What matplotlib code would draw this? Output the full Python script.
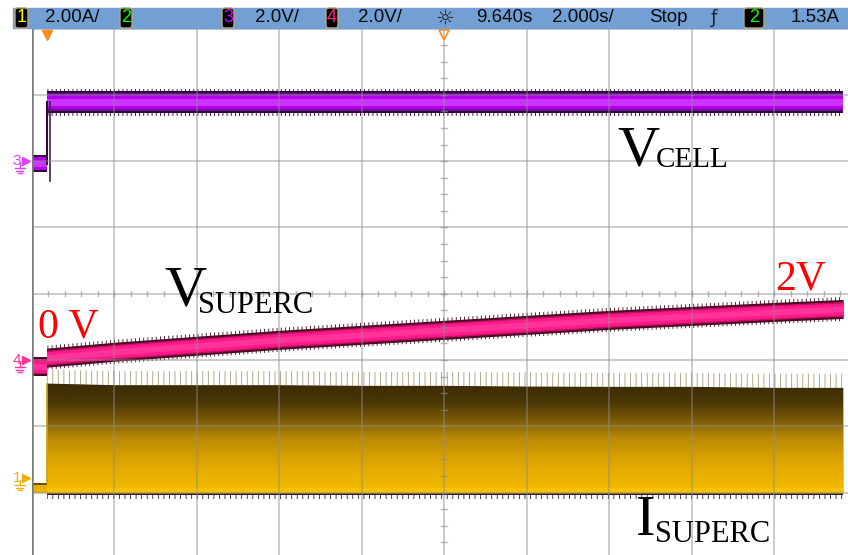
import numpy as np
import matplotlib.pyplot as plt
from matplotlib.patches import Rectangle, FancyBboxPatch
from matplotlib.colors import LinearSegmentedColormap

# horizontal: 2.000 s/div, delay 9.640 s (centre of screen)
t_delay, t_div = 9.640, 2.0
t_left = t_delay - 5 * t_div

# channel scale (V/div or A/div) and ground marker position (div from centre)
ch3_scale, ch3_pos = 2.0, 2.0     # V_CELL
ch4_scale, ch4_pos = 2.0, -1.0    # V_SUPERC
ch1_scale, ch1_pos = 2.0, -2.78   # I_SUPERC

# instants where the envelopes were read (s)
t_read = [0.0, 1.66, 3.64, 5.66, 7.65, 9.64, 11.65, 13.64, 15.65, 17.64, 19.31]
t_pre = [t_left, 0.0]

# V_CELL (V): before / after the switch-on, and the glitch at the step
vcell_pre = [-0.08, -0.08]
vcell_post = [1.77, 1.77, 1.77, 1.77, 1.77, 1.77, 1.77, 1.77, 1.77, 1.77, 1.77]
glitch_t, glitch_v = 0.09, -0.60

# V_SUPERC (V), mean level of the trace
vsc_pre = [-0.20, -0.20]
vsc_post = [0.07, 0.25, 0.43, 0.61, 0.76, 0.91, 1.06, 1.21, 1.33, 1.45, 1.54]

# I_SUPERC (A), lower and upper envelope of the switching current
isc_pre_lo = [-0.45, -0.45]
isc_pre_hi = [-0.15, -0.15]
isc_lo = [-0.45, -0.45, -0.45, -0.45, -0.45, -0.45, -0.45, -0.45, -0.45, -0.45, -0.45]
isc_hi = [2.85, 2.80, 2.80, 2.80, 2.78, 2.78, 2.76, 2.75, 2.75, 2.72, 2.72]

PX = 1 / 66.3   # one screen pixel in divisions (vertical)
PXX = 1 / 825   # one screen pixel in axes fraction (horizontal)


def to_div(vals, scale, pos):
    return pos + np.asarray(vals) / scale


def band(ax, t, y, layers, z):
    # layers: (half width in px, colour, hatch)
    for half, col, hatch in layers:
        if hatch:
            ax.fill_between(t, y - half * PX, y + half * PX, facecolor='none',
                            edgecolor=col, hatch=hatch, lw=0, zorder=z)
        else:
            ax.fill_between(t, y - half * PX, y + half * PX, color=col, lw=0, zorder=z)
        z += 0.01


plt.rcParams['hatch.linewidth'] = 0.6

fig = plt.figure(figsize=(8.48, 5.55), dpi=100)
W, H = 848, 555
ax = fig.add_axes([31.7 / W, (H - 558.9) / H, 825 / W, 530.4 / H])
ax.set_xlim(t_left, t_left + 10 * t_div)
ax.set_ylim(-4, 4)
ax.axis('off')

# ---- V_CELL (channel 3, purple)
purple = [(13.5, '#2a0030', '||||'), (11, '#300838', None), (9, '#7010a0', None),
          (7, '#b400ea', None), (3.5, '#cc33ff', None)]
band(ax, t_read, to_div(vcell_post, ch3_scale, ch3_pos), purple, 3)
band(ax, t_pre, to_div(vcell_pre, ch3_scale, ch3_pos),
     [(8.5, '#300838', None), (6.5, '#b400ea', None), (3, '#cc33ff', None)], 3)
ax.plot([0.0, 0.0], to_div([vcell_pre[-1], vcell_post[0]], ch3_scale, ch3_pos),
        color='#300838', lw=1.5, zorder=3.2)
ax.plot([glitch_t, glitch_t], to_div([vcell_post[0], glitch_v], ch3_scale, ch3_pos),
        color='#402048', lw=1.2, zorder=3.2)

# ---- V_SUPERC (channel 4, pink)
pink = [(12, '#3a0820', '||||'), (9.5, '#4a0a25', None), (7.5, '#c0105f', None),
        (6, '#ff1a8c', None), (3, '#ff3399', None)]
band(ax, t_read, to_div(vsc_post, ch4_scale, ch4_pos), pink, 3)
band(ax, t_pre, to_div(vsc_pre, ch4_scale, ch4_pos), pink[1:], 3)

# ---- I_SUPERC (channel 1, yellow) with vertical colour gradient
y_lo = to_div(isc_lo, ch1_scale, ch1_pos)
y_hi = to_div(isc_hi, ch1_scale, ch1_pos)
ax.fill_between(t_read, y_hi, y_hi + 14 * PX, facecolor='none', edgecolor='#a89a78',
                hatch='|||', lw=0, zorder=2)
ax.fill_between(t_read, y_lo - 6 * PX, y_lo, facecolor='none', edgecolor='#301828',
                hatch='|||', lw=0, zorder=2)
ax.fill_between(t_read, y_lo - 2.5 * PX, y_lo + 1 * PX, color='#2a1a20', lw=0, zorder=2.1)
poly = ax.fill_between(t_read, y_lo, y_hi, color='#d9a300', lw=0, zorder=2.2)
ymin, ymax = y_lo.min(), y_hi.max()
cmap = LinearSegmentedColormap.from_list(
    'isc', ['#f5bc00', '#eab000', '#d6a000', '#b88a04', '#7a5a08', '#4a3606', '#3a2a06'])
grad = np.linspace(0, 1, 256).reshape(-1, 1)
im = ax.imshow(grad, cmap=cmap, aspect='auto', origin='lower',
               extent=[t_read[0], t_read[-1], ymin, ymax], zorder=2.3)
im.set_clip_path(poly.get_paths()[0], transform=ax.transData)
ax.fill_between(t_read, y_lo + 1 * PX, y_lo + 5 * PX, color='#f8c200', lw=0, zorder=2.4)
ax.fill_between(t_pre, to_div(isc_pre_lo, ch1_scale, ch1_pos), to_div(isc_pre_hi, ch1_scale, ch1_pos),
                color='#e8b000', lw=0, zorder=2.2)
ax.fill_between(t_pre, to_div(isc_pre_hi, ch1_scale, ch1_pos),
                to_div(isc_pre_hi, ch1_scale, ch1_pos) - 2 * PX, color='#6a5020', lw=0, zorder=2.3)
ax.plot([0.0, 0.0], [to_div(isc_pre_hi, ch1_scale, ch1_pos)[0], y_hi[0]],
        color='#d0a000', lw=1.2, zorder=2.3)

# ---- graticule, drawn over the traces
for k in range(1, 11):
    ax.axvline(t_left + k * t_div, color='#8c8c8c', alpha=0.45, lw=1.4, zorder=5)
for k in range(-3, 5):
    ax.axhline(k, color='#8c8c8c', alpha=0.45, lw=1.4, zorder=5)
ax.axvline(t_left, color='#7a7a7a', lw=1.8, zorder=5)
for k in np.arange(0, 10, 0.2):
    ax.plot([t_left + k * t_div] * 2, [-2.5 * PX, 2.5 * PX], color='#8c8c8c', alpha=0.6, lw=1, zorder=5)
for k in np.arange(-4, 4, 0.25):
    ax.plot([t_delay - 0.07, t_delay + 0.07], [k, k], color='#8c8c8c', alpha=0.6, lw=1, zorder=5)

# trigger point and time reference markers
ax.plot([0.0], [4 - 6 * PX], marker='v', ms=7, color='#ff8c1a', zorder=6, clip_on=False)
ax.plot([t_delay], [4 - 6 * PX], marker='v', ms=7, mfc='none', mec='#ff8c1a', mew=1.2,
        zorder=6, clip_on=False)

# channel ground markers: number, arrow and a small ground sign
ytr = ax.get_yaxis_transform()
for lab, pos, col in [('3', ch3_pos, '#e040ff'), ('4', ch4_pos, '#ff3399'), ('1', ch1_pos, '#f0b000')]:
    ax.text(-15 * PXX, pos, lab, transform=ytr, color=col, fontsize=11,
            ha='center', va='center', clip_on=False, family='Liberation Sans')
    ax.plot([-6 * PXX], [pos], marker='>', ms=6, color=col, transform=ytr, clip_on=False)
    gx = -12 * PXX
    ax.plot([gx, gx], [pos - 2 * PX, pos - 7 * PX], color=col, lw=1, transform=ytr, clip_on=False)
    for dy, hw in [(7, 5), (9.5, 3.5), (12, 2)]:
        ax.plot([gx - hw * PXX, gx + hw * PXX], [pos - dy * PX] * 2, color=col, lw=1,
                transform=ytr, clip_on=False)


# ---- header bar (pixel positions of the screen)
def fx(px):
    return px / W


def fy(py):
    return 1 - py / H


fig.patches.append(Rectangle((fx(13), fy(28)), fx(W) - fx(13), fy(8) - fy(28),
                             transform=fig.transFigure, color='#72a0d4', zorder=0))
for x0, x1, lab, col in [(15, 28, '1', '#ffff00'), (120, 132, '2', '#00ff00'),
                         (222, 234, '3', '#d000ff'), (326, 338, '4', '#ff2080'),
                         (744, 764, '2', '#00ff00')]:
    fig.patches.append(FancyBboxPatch((fx(x0), fy(28)), fx(x1) - fx(x0), fy(8) - fy(28),
                                      boxstyle='round,pad=0,rounding_size=0.004',
                                      transform=fig.transFigure, facecolor='black',
                                      edgecolor='#b8a878', lw=1, zorder=1))
    fig.text(fx((x0 + x1) / 2), fy(18), lab, color=col, fontsize=13, ha='center', va='center',
             family='Liberation Sans')
head = [(45, '2.00A/'), (255, '2.0V/'), (358, '2.0V/'), (476, '9.640s'),
        (552, '2.000s/'), (649, 'Stop'), (791, '1.53A')]
for x0, lab in head:
    fig.text(fx(x0), fy(18), lab, fontsize=13.5, ha='left', va='center', color='#0a0a0a',
             family='Liberation Sans')
fig.text(fx(445), fy(18), '☼', fontsize=15, ha='center', va='center', color='#202020')
fig.text(fx(713), fy(18), 'ƒ', fontsize=13, ha='center', va='center', color='#202020')

# ---- annotations
serif = 'Liberation Serif'
for x0, yb, txt, size, col in [(617, 165, 'V', 42, 'black'), (656, 167, 'CELL', 21, 'black'),
                               (164, 305, 'V', 42, 'black'), (198, 313, 'SUPERC', 22, 'black'),
                               (636, 535, 'I', 42, 'black'), (655, 542, 'SUPERC', 22, 'black'),
                               (38, 338, '0 V', 30, 'red'), (775, 290, '2V', 30, 'red')]:
    fig.text(fx(x0), fy(yb), txt, fontsize=size, color=col, family=serif,
             ha='left', va='baseline')

fig.savefig('out.png', dpi=100)
